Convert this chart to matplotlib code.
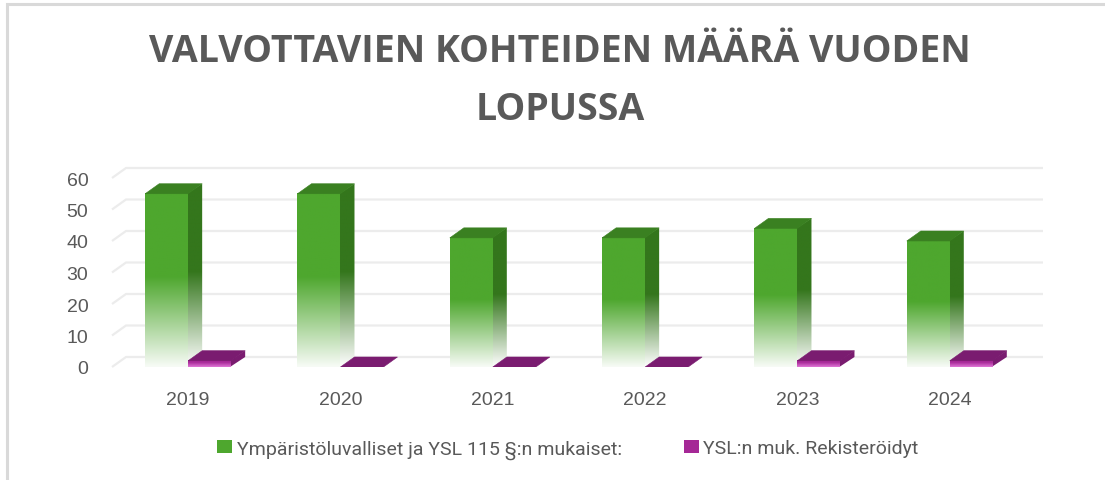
import numpy as np
import matplotlib
matplotlib.use("Agg")
import matplotlib.pyplot as plt
from matplotlib.patches import Polygon, Rectangle, Patch
from matplotlib import font_manager

# ---------------- data ----------------
years = ["2019", "2020", "2021", "2022", "2023", "2024"]
ymparistoluvalliset = [55, 55, 41, 41, 44, 40]
rekisteroidyt = [2, 0, 0, 0, 2, 2]
series_names = ["Ympäristöluvalliset ja YSL 115 §:n mukaiset:", "YSL:n muk. Rekisteröidyt"]
yticks = [0, 10, 20, 30, 40, 50, 60]
title = "VALVOTTAVIEN KOHTEIDEN MÄÄRÄ VUODEN\nLOPUSSA"

# ---------------- style ----------------
W, H = 1105, 481
DPI = 100
GRID_C = "#ececec"
TEXT_C = "#595959"
GREEN = np.array([78, 167, 46]) / 255
GREEN_SIDE = np.array([52, 118, 28]) / 255
GREEN_TOP = np.array([58, 128, 33]) / 255
PURPLE = np.array([165, 40, 150]) / 255
PURPLE_LIGHT = np.array([225, 120, 215]) / 255
PURPLE_TOP = np.array([122, 28, 112]) / 255

available = {f.name for f in font_manager.fontManager.ttflist}
narrow = "Liberation Sans Narrow" if "Liberation Sans Narrow" in available else "Roboto"

fig = plt.figure(figsize=(W / DPI, H / DPI), dpi=DPI)
fig.patch.set_facecolor("white")

# partial frame (left + top) like the screenshot
fig.add_artist(Rectangle((7 / W, -0.1), 1.2, 1 - 4.5 / H + 0.1, transform=fig.transFigure,
                         fill=False, edgecolor="#d9d9d9", linewidth=2.2))

left_px, right_px, top_px, bot_px = 112, 1029, 179, 368
ax = fig.add_axes([left_px / W, 1 - bot_px / H, (right_px - left_px) / W, (bot_px - top_px) / H])
xmin, xmax = -0.5, 5.52
ax.set_xlim(xmin, xmax)
ax.set_ylim(0, 60)
for s in ax.spines.values():
    s.set_visible(False)
ax.set_facecolor("none")

# depth offset in data units from pixel offset
px_per_x = (right_px - left_px) / (xmax - xmin)
px_per_y = (bot_px - top_px) / 60.0
DX = 14 / px_per_x
DY = 10 / px_per_y
EPS = 1.2 / px_per_x

# gridlines on back wall with slanted side
for yv in yticks:
    ax.plot([xmin, xmin + DX, xmax + DX], [yv, yv + DY, yv + DY], color=GRID_C,
            linewidth=1.6, clip_on=False, zorder=0, solid_capstyle="butt")

ax.set_yticks(yticks)
ax.set_yticklabels([str(v) for v in yticks], fontsize=14, color=TEXT_C, family="Liberation Sans")
ax.tick_params(axis="y", length=0, pad=17)
xpos = np.arange(len(years))
ax.set_xticks(xpos)
ax.set_xticklabels(years, fontsize=14, color=TEXT_C, family="Liberation Sans")
ax.tick_params(axis="x", length=0, pad=17)

bw = 43 / px_per_x


def vgrad(top_c, bot_c, solid_frac, n=256, fade=1.0):
    t = np.linspace(0, 1, n)[:, None]
    s = np.clip((t - solid_frac) / (1 - solid_frac), 0, 1) * fade
    cols = top_c[None, :] * (1 - s) + bot_c[None, :] * s
    return np.repeat(cols[:, None, :], 2, axis=1)


def bar3d(x0, h, front_top, front_bot, side_top, side_bot, top_c, solid, z):
    x1 = x0 + bw
    if h > 0:
        # side face (drawn first, slightly overlapping under the front face)
        side = Polygon([[x1 - EPS, 0], [x1 + DX, DY], [x1 + DX, h + DY], [x1 - EPS, h]], closed=True,
                       facecolor="none", edgecolor="none", transform=ax.transData)
        ax.add_patch(side)
        simg = vgrad(side_top, side_bot, solid)
        im = ax.imshow(simg, extent=[x1 - EPS, x1 + DX, 0, h + DY], aspect="auto",
                       interpolation="bilinear", zorder=z)
        im.set_clip_path(side)
        img = vgrad(front_top, front_bot, solid)
        ax.imshow(img, extent=[x0, x1, 0, h], aspect="auto", interpolation="bilinear", zorder=z + 0.05)
    ax.add_patch(Polygon([[x0, h], [x1, h], [x1 + DX, h + DY], [x0 + DX, h + DY]], closed=True,
                         facecolor=top_c, edgecolor=top_c, linewidth=0.4, zorder=z + 0.1))


white = np.array([0.97, 0.985, 0.965])
for i, (g, p) in enumerate(zip(ymparistoluvalliset, rekisteroidyt)):
    bar3d(i - bw, g, GREEN, white, GREEN_SIDE, np.array([1.0, 1.0, 1.0]), GREEN_TOP, 0.48, 2 + i)
    bar3d(i, p, PURPLE, PURPLE_LIGHT, PURPLE_TOP, PURPLE_TOP, PURPLE_TOP, 0.3, 2.5 + i)

ax.set_xlim(xmin, xmax)
ax.set_ylim(0, 60)

# title
fig.text(560 / W, 1 - 81 / H, title, ha="center", va="center", fontsize=27, fontweight="bold",
         color=TEXT_C, family="Open Sans", linespacing=1.68)

# legend
handles = [Patch(facecolor=GREEN, edgecolor="none"), Patch(facecolor=PURPLE, edgecolor="none")]
leg = fig.legend(handles, series_names, loc="center", bbox_to_anchor=(568 / W, 1 - 450 / H),
                 ncol=2, frameon=False, handlelength=0.75, handleheight=0.7,
                 handletextpad=0.25, columnspacing=3.2, prop={"family": narrow, "size": 14})
for t in leg.get_texts():
    t.set_color(TEXT_C)

fig.savefig("out.png", dpi=DPI, facecolor="white")
